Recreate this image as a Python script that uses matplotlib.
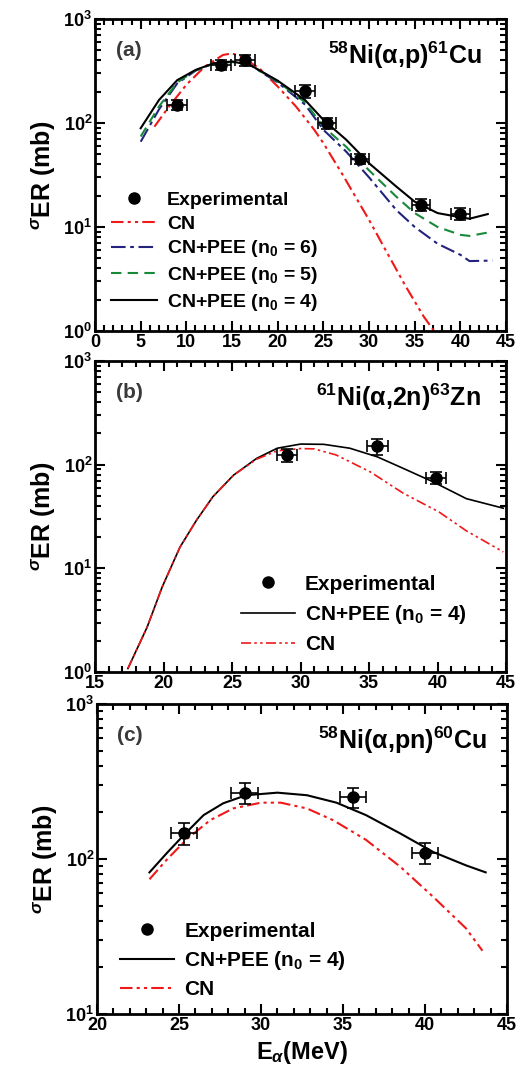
import matplotlib
matplotlib.use("Agg")
import matplotlib.pyplot as plt
from matplotlib.ticker import MultipleLocator, LogLocator, NullFormatter

plt.rcParams['font.family'] = ['Liberation Sans', 'DejaVu Sans']
plt.rcParams['font.weight'] = 'bold'
plt.rcParams['mathtext.fontset'] = 'custom'
plt.rcParams['mathtext.rm'] = 'Liberation Sans:bold'
plt.rcParams['mathtext.bf'] = 'Liberation Sans:bold'
plt.rcParams['mathtext.it'] = 'Liberation Sans:bold:italic'

# ---- panel (a): 58Ni(a,p)61Cu ----
a_exp_x = [9.0, 13.8, 16.4, 23.0, 25.4, 29.0, 35.7, 40.0]
a_exp_y = [150, 362, 405, 203, 99, 45, 16.3, 13.4]
a_exp_yerr = [18, 40, 50, 28, 12, 5, 2.2, 1.8]
a_exp_xerr = [1.1, 1.1, 1.1, 1.1, 1.0, 1.0, 1.0, 1.0]

a_n4_x = [5, 7, 9, 11, 13, 15, 17, 20, 23, 25, 27.5, 30, 33, 35, 37.5, 40, 41, 43]
a_n4_y = [89, 166, 258, 323, 375, 390, 360, 255, 166, 107, 69, 41, 24.4, 17.5, 13.6, 12.4, 12, 13.3]
a_n5_x = [5, 7, 9, 11, 13, 15, 17, 20, 23, 25, 27.5, 30, 33, 35, 37.5, 40, 41, 43.5]
a_n5_y = [74, 144, 245, 320, 372, 385, 360, 250, 158, 92, 59, 35, 19.5, 13.6, 10, 8.4, 8.2, 9.0]
a_n6_x = [5, 7, 9, 11, 13, 15, 17, 20, 23, 25, 27.5, 30, 33, 35, 37.5, 40, 41, 43.5]
a_n6_y = [66, 135, 240, 318, 375, 388, 360, 245, 150, 86, 53, 30, 14.5, 10, 6.9, 5.4, 4.7, 4.75]
a_cn_x = [6.5, 8, 10, 12, 14, 15, 16, 18, 20, 22, 24, 25, 27, 30, 32, 34, 36, 37.5]
a_cn_y = [92, 140, 233, 347, 450, 467, 433, 335, 224, 144, 86, 64, 33, 11.7, 5.6, 2.7, 1.37, 0.9]

# ---- panel (b): 61Ni(a,2n)63Zn ----
b_exp_x = [29.0, 35.6, 39.9]
b_exp_y = [124, 151, 75]
b_exp_yerr = [18, 26, 10]
b_exp_xerr = [0.75, 0.75, 0.75]

b_n4_x = [17.4, 18.8, 19.9, 21.2, 22.4, 23.6, 25.1, 26.8, 28.3, 30.0, 31.7, 33.6, 35.6, 37.5, 39.7, 42.1, 44.8]
b_n4_y = [1.08, 2.7, 6.6, 16, 29, 49, 79, 115, 144, 158, 157, 144, 119, 92, 68, 47, 38]
b_cn_x = [17.4, 18.8, 19.9, 21.2, 22.4, 23.6, 25.1, 26.8, 28.3, 30.0, 31.0, 32.6, 35.1, 37.5, 40.1, 42.1, 44.8]
b_cn_y = [1.08, 2.7, 6.6, 16, 29, 49, 79, 113, 136, 143, 142, 124, 85, 53, 35, 23, 14.4]

# ---- panel (c): 58Ni(a,pn)60Cu ----
c_exp_x = [25.3, 29.0, 35.6, 40.0]
c_exp_y = [147, 268, 250, 110]
c_exp_yerr = [24, 42, 38, 17]
c_exp_xerr = [0.8, 0.8, 0.8, 0.8]

c_n4_x = [23.2, 24.25, 25.3, 26.5, 27.7, 29.1, 31.0, 32.8, 34.6, 36.4, 38.5, 40.5, 42.5, 43.7]
c_n4_y = [82, 109, 143, 192, 229, 258, 268, 258, 231, 192, 146, 111, 91, 82]
c_cn_x = [23.2, 24.25, 25.5, 26.9, 28.3, 30.0, 31.2, 32.8, 34.4, 36.4, 38.5, 40.5, 42.5, 43.5]
c_cn_y = [74, 99, 135, 178, 212, 231, 231, 212, 178, 133, 89, 57, 35.7, 25.6]

RED = '#f01818'
BLUE = '#23237e'
GREEN = '#178a3a'
CN_LS = (0, (6, 2, 1.5, 2, 1.5, 2))
N6_LS = (0, (7, 2.2, 1.8, 2.2))
N5_LS = (0, (5, 3))

fig = plt.figure(figsize=(5.17, 10.76), dpi=100)
axa = fig.add_axes([0.1838, 0.6924, 0.7950, 0.2900])
axb = fig.add_axes([0.1838, 0.3755, 0.7950, 0.2890])
axc = fig.add_axes([0.1876, 0.0576, 0.7931, 0.2881])


def style(ax, xlim, ylim):
    ax.set_yscale('log')
    ax.set_xlim(*xlim)
    ax.set_ylim(*ylim)
    ax.xaxis.set_major_locator(MultipleLocator(5))
    ax.xaxis.set_minor_locator(MultipleLocator(1))
    ax.yaxis.set_major_locator(LogLocator(base=10))
    ax.yaxis.set_minor_locator(LogLocator(base=10, subs=range(2, 10)))
    ax.yaxis.set_minor_formatter(NullFormatter())
    ax.tick_params(which='both', direction='in', top=True, right=True, width=1.5)
    ax.tick_params(which='major', length=7, labelsize=13, pad=2)
    ax.tick_params(which='minor', length=4)
    for s in ax.spines.values():
        s.set_linewidth(2)
    ax.set_ylabel(r'$^{\sigma}$ER (mb)', fontsize=18, fontweight='bold', labelpad=4)


def experimental(ax, x, y, xerr, yerr):
    return ax.errorbar(x, y, xerr=xerr, yerr=yerr, fmt='o', color='black',
                       markersize=8, capsize=4, elinewidth=1.2, capthick=1.2, zorder=5)


# panel (a)
style(axa, (0, 45), (1, 1000))
pe = experimental(axa, a_exp_x, a_exp_y, a_exp_xerr, a_exp_yerr)
l_cn, = axa.plot(a_cn_x, a_cn_y, color=RED, ls=CN_LS, lw=1.5)
l_n6, = axa.plot(a_n6_x, a_n6_y, color=BLUE, ls=N6_LS, lw=1.5)
l_n5, = axa.plot(a_n5_x, a_n5_y, color=GREEN, ls=N5_LS, lw=1.5)
l_n4, = axa.plot(a_n4_x, a_n4_y, color='black', lw=1.5)
axa.legend([pe[0], l_cn, l_n6, l_n5, l_n4],
           ['Experimental', 'CN', r'CN+PEE (n$_0$ = 6)', r'CN+PEE (n$_0$ = 5)', r'CN+PEE (n$_0$ = 4)'],
           loc='lower left', bbox_to_anchor=(0.01, 0.02), frameon=False, fontsize=14,
           handlelength=2.4, handletextpad=0.5, labelspacing=0.3, borderaxespad=0.2)
axa.text(0.05, 0.93, '(a)', transform=axa.transAxes, fontsize=15, color='#3a3a3a',
         fontweight='bold', va='top')
axa.text(0.94, 0.935, r'$^{58}$Ni(α,p)$^{61}$Cu', transform=axa.transAxes, fontsize=18,
         fontweight='bold', va='top', ha='right')

# panel (b)
style(axb, (15, 45), (1, 1000))
pe = experimental(axb, b_exp_x, b_exp_y, b_exp_xerr, b_exp_yerr)
l_n4, = axb.plot(b_n4_x, b_n4_y, color='black', lw=1.2)
l_cn, = axb.plot(b_cn_x, b_cn_y, color=RED, ls=CN_LS, lw=1.2)
axb.legend([pe[0], l_n4, l_cn], ['Experimental', r'CN+PEE (n$_0$ = 4)', 'CN'],
           loc='lower left', bbox_to_anchor=(0.32, 0.01), frameon=False, fontsize=15,
           handlelength=2.6, handletextpad=0.45, labelspacing=0.45, borderaxespad=0.3)
axb.text(0.05, 0.93, '(b)', transform=axb.transAxes, fontsize=15, color='#3a3a3a',
         fontweight='bold', va='top')
axb.text(0.94, 0.935, r'$^{61}$Ni(α,2n)$^{63}$Zn', transform=axb.transAxes, fontsize=18,
         fontweight='bold', va='top', ha='right')

# panel (c)
style(axc, (20, 45), (10, 1000))
pe = experimental(axc, c_exp_x, c_exp_y, c_exp_xerr, c_exp_yerr)
l_n4, = axc.plot(c_n4_x, c_n4_y, color='black', lw=1.5)
l_cn, = axc.plot(c_cn_x, c_cn_y, color=RED, ls=CN_LS, lw=1.5)
axc.legend([pe[0], l_n4, l_cn], ['Experimental', r'CN+PEE (n$_0$ = 4)', 'CN'],
           loc='lower left', bbox_to_anchor=(0.02, 0.0), frameon=False, fontsize=15,
           handlelength=2.6, handletextpad=0.5, labelspacing=0.4, borderaxespad=0.3)
axc.text(0.05, 0.93, '(c)', transform=axc.transAxes, fontsize=15, color='#3a3a3a',
         fontweight='bold', va='top')
axc.text(0.95, 0.935, r'$^{58}$Ni(α,pn)$^{60}$Cu', transform=axc.transAxes, fontsize=18,
         fontweight='bold', va='top', ha='right')
axc.set_xlabel(r'E$_{\alpha}$(MeV)', fontsize=17, fontweight='bold')

fig.savefig('out.png', dpi=100)
